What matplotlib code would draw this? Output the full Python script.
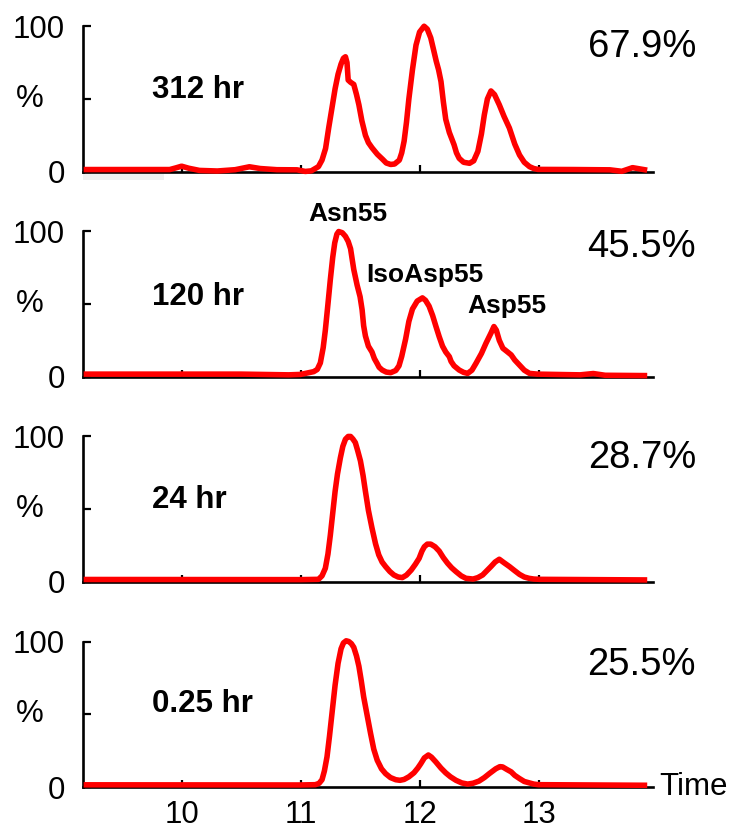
import matplotlib
matplotlib.use('Agg')
import matplotlib.pyplot as plt
from matplotlib.patches import Rectangle
from matplotlib.transforms import blended_transform_factory

plt.rcParams['font.family'] = ['Liberation Sans', 'DejaVu Sans']

# 312 hr
t_312 = [9.20, 9.90, 9.95, 10.00, 10.06, 10.15, 10.30, 10.45, 10.57, 10.66, 10.80, 10.97,
         11.04, 11.09, 11.15, 11.18, 11.21, 11.236, 11.26, 11.29, 11.315, 11.34, 11.36,
         11.377, 11.39, 11.40, 11.42, 11.447, 11.47, 11.49, 11.515, 11.545, 11.57, 11.60,
         11.645, 11.69, 11.72, 11.757, 11.79, 11.83, 11.85, 11.87, 11.89, 11.91, 11.94,
         11.97, 12.00, 12.038, 12.065, 12.094, 12.12, 12.14, 12.16, 12.18, 12.20, 12.22,
         12.25, 12.29, 12.31, 12.333, 12.37, 12.42, 12.455, 12.49, 12.52, 12.544, 12.57,
         12.60, 12.63, 12.67, 12.71, 12.755, 12.80, 12.84, 12.88, 12.924, 12.96, 12.994,
         13.30, 13.60, 13.70, 13.79, 13.89]
i_312 = [1.5, 1.5, 2.6, 3.8, 2.4, 0.9, 0.5, 1.4, 3.4, 2.2, 1.4, 1.3,
         0.2, 0.6, 3.5, 8, 16, 30, 42, 57, 67, 74, 78,
         79, 75, 63, 61.5, 60, 53, 46, 35, 25, 20, 16.5,
         12, 8.5, 6, 5, 5.3, 8, 13, 21, 34, 50, 70,
         87, 96, 100, 98, 92, 83, 76, 70, 62, 48, 36,
         27, 18.5, 13, 9.2, 6.5, 5.8, 7.5, 14, 26, 39, 50,
         55.5, 53, 46, 38, 30, 19, 11.5, 6.5, 3.5, 2.2, 1.6,
         1.5, 1.3, 0.3, 2.8, 1.4]

# 120 hr
t_120 = [9.20, 10.50, 10.90, 11.00, 11.11, 11.14, 11.166, 11.19, 11.208, 11.23, 11.25,
         11.27, 11.287, 11.305, 11.32, 11.35, 11.377, 11.40, 11.42, 11.435, 11.447, 11.475,
         11.50, 11.517, 11.53, 11.545, 11.57, 11.60, 11.62, 11.644, 11.66, 11.686, 11.72,
         11.757, 11.80, 11.827, 11.85, 11.883, 11.91, 11.94, 11.98, 12.024, 12.05, 12.08,
         12.11, 12.136, 12.165, 12.193, 12.22, 12.25, 12.265, 12.29, 12.333, 12.37, 12.404,
         12.44, 12.474, 12.52, 12.558, 12.60, 12.625, 12.645, 12.67, 12.70, 12.74, 12.77,
         12.80, 12.84, 12.88, 12.924, 12.99, 13.20, 13.35, 13.46, 13.56, 13.89]
i_120 = [1.8, 1.8, 1.3, 1.6, 3.5, 5, 9.5, 20, 32, 50, 66.8,
         82, 92, 98, 99.8, 99, 96.5, 93, 88, 80, 73.7, 63,
         55, 46, 35, 28, 21, 17, 12.5, 9, 6.5, 4.6, 3.2,
         2.8, 4.3, 7.5, 14, 26, 38, 46.5, 52, 54.2, 52.5, 48.5,
         42, 35, 27.5, 21, 17, 13.8, 10.5, 7.5, 4.6, 3, 2.3,
         4.5, 9.2, 16, 23, 30, 34.5, 32, 25, 19.6, 17, 15,
         11.5, 8, 4.5, 2.3, 1.8, 1.5, 1.3, 2.2, 1.0, 0.8]

# 24 hr
t_24 = [9.20, 11.00, 11.15, 11.18, 11.208, 11.23, 11.25, 11.27, 11.29, 11.31, 11.334,
        11.355, 11.377, 11.40, 11.42, 11.44, 11.46, 11.48, 11.503, 11.525, 11.545, 11.57,
        11.60, 11.63, 11.657, 11.685, 11.714, 11.75, 11.784, 11.82, 11.855, 11.89, 11.93,
        11.965, 11.996, 12.02, 12.04, 12.065, 12.094, 12.13, 12.165, 12.20, 12.235, 12.27,
        12.306, 12.35, 12.39, 12.45, 12.49, 12.53, 12.565, 12.60, 12.635, 12.67, 12.71,
        12.755, 12.80, 12.84, 12.88, 12.92, 12.96, 13.01, 13.89]
i_24 = [1.5, 1.4, 1.6, 4, 9.2, 19, 32, 47, 62, 74, 85,
        93, 97.9, 99.8, 99.8, 98, 95.6, 90, 83, 73, 62, 49,
        36.9, 26, 18.4, 13.5, 10.4, 7, 4.6, 3.2, 2.8, 4.5, 8,
        12, 16, 21, 24, 25.8, 25.8, 24, 21, 16.5, 12.7, 9.5,
        6.9, 4, 2.3, 1.8, 2.8, 4.6, 7.5, 10.4, 13.5, 15.4, 13,
        10.4, 7.5, 5, 3.2, 2.3, 1.8, 1.6, 1.2]

# 0.25 hr
t_025 = [9.20, 11.00, 11.124, 11.155, 11.18, 11.20, 11.222, 11.243, 11.264, 11.29, 11.315,
         11.34, 11.36, 11.383, 11.405, 11.427, 11.447, 11.47, 11.49, 11.51, 11.53, 11.56,
         11.588, 11.615, 11.644, 11.68, 11.714, 11.755, 11.80, 11.835, 11.87, 11.91, 11.953,
         11.985, 12.01, 12.04, 12.074, 12.10, 12.136, 12.18, 12.22, 12.26, 12.306, 12.355,
         12.404, 12.45, 12.50, 12.545, 12.586, 12.64, 12.675, 12.698, 12.735, 12.77, 12.80,
         12.84, 12.88, 12.924, 12.96, 13.00, 13.89]
i_025 = [1.5, 1.4, 1.6, 2.5, 5, 11, 20.7, 35, 50.7, 70, 85,
         95, 99, 100.5, 100, 98.5, 96, 90, 83, 73, 62, 49,
         36.9, 26, 18.4, 12.5, 9.2, 6.5, 5, 4.6, 5.2, 7, 9.8,
         13, 16, 20, 22, 20.5, 17.3, 13, 9.7, 7, 4.6, 2.8,
         2, 2.6, 4.1, 6.5, 9.2, 12.5, 14, 13.8, 12, 10.4, 8,
         5.8, 3.8, 2.8, 2, 1.6, 1.2]

times = [t_312, t_120, t_24, t_025]
intens = [i_312, i_120, i_24, i_025]
hr_labels = ['312 hr', '120 hr', '24 hr', '0.25 hr']
hr_y = [56, 55, 56, 57]
pct_labels = ['67.9%', '45.5%', '28.7%', '25.5%']
pct_y = [86, 89.4, 84.8, 83.6]
x_ticks = [10, 11, 12, 13]

peak_names = ['Asn55', 'IsoAsp55', 'Asp55']
peak_x = [11.40, 12.046, 12.735]
peak_y = [111.7, 69.6, 48.9]

fig = plt.figure(figsize=(7.33, 8.30), dpi=100)
bottoms = [0.7931, 0.5461, 0.2992, 0.0518]

for k in range(4):
    ax = fig.add_axes([0.1132, bottoms[k], 0.778, 0.1753])
    ax.plot(times[k], intens[k], color='#ff0000', lw=4.0, clip_on=False,
            solid_joinstyle='round', zorder=3)
    ax.set_xlim(9.171, 13.964)
    ax.set_ylim(0, 100)
    for s in ['top', 'right']:
        ax.spines[s].set_visible(False)
    ax.spines['left'].set_bounds(0, 100)
    ax.spines['left'].set_linewidth(1.9)
    ax.spines['bottom'].set_linewidth(1.9)
    ax.set_yticks([0, 50, 100])
    ax.set_yticklabels(['0', '', '100'])
    ax.set_xticks(x_ticks)
    ax.tick_params(axis='y', direction='in', length=5.8, width=1.6, pad=13, labelsize=22.5)
    ax.tick_params(axis='x', direction='in', length=5, width=1.6, pad=9, labelsize=22.5)
    if k < 3:
        ax.set_xticklabels([])
    else:
        ax.set_xticklabels([str(v) for v in x_ticks])
        ax.text(14.015, 0, 'Time', fontsize=22.5, ha='left', va='center', clip_on=False)

    trans = blended_transform_factory(ax.transAxes, ax.transData)
    ax.text(-0.094, 50, '%', fontsize=22.5, ha='center', va='center', transform=trans)
    ax.text(9.751, hr_y[k], hr_labels[k], fontsize=22.5, fontweight='bold',
            ha='left', va='center')
    ax.text(1.075, pct_y[k], pct_labels[k], fontsize=27.5, ha='right', va='center',
            transform=trans)

    if k == 0:
        # faint grey smudge under the axis start
        ax.add_patch(Rectangle((9.171, -5.5), 0.68, 4, color='#efefef', lw=0,
                               clip_on=False, zorder=0))
    if k == 1:
        for name, px, py in zip(peak_names, peak_x, peak_y):
            ax.text(px, py, name, fontsize=19, fontweight='bold', ha='center',
                    va='center', clip_on=False)

fig.savefig('out.png', dpi=100)
